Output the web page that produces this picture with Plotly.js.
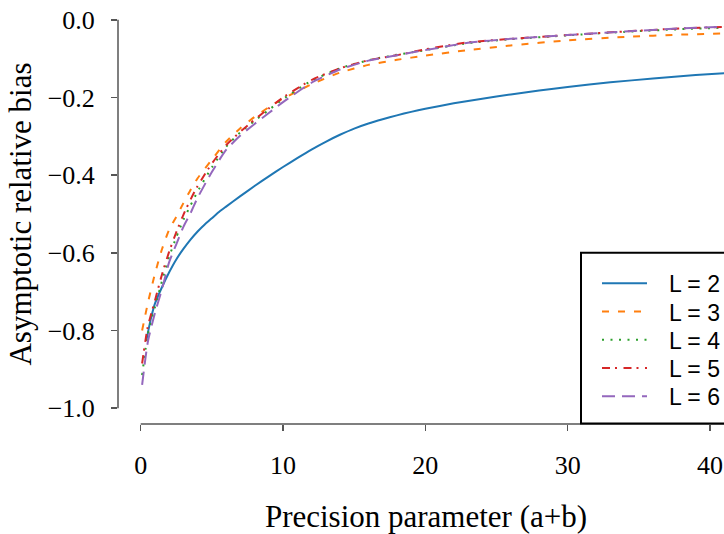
<!DOCTYPE html>
<html><head><meta charset="utf-8">
<script src="https://cdn.plot.ly/plotly-3.0.1.min.js"></script>
<style>html,body{margin:0;padding:0;overflow:hidden;background:#fff}#chart{width:760px;height:534px}</style>
</head><body><div id="chart"></div>
<script>
// Precision parameter (a+b) for L = 2
const xL2 = [0.4, 0.7, 1.0, 1.5, 2.0, 2.5, 3.0, 3.5, 4.0, 4.5, 5.0, 5.5, 6.0, 7.0, 8.0, 9.0, 10.0, 11.0, 12.0, 13.0, 14.0, 15.0, 16.0, 17.0, 18.0, 19.0, 20.0, 22.0, 24.0, 26.0, 28.0, 30.0, 33.0, 36.0, 39.0, 42.0];
const yL2 = [-0.825, -0.772, -0.731, -0.688, -0.650, -0.617, -0.590, -0.566, -0.545, -0.527, -0.511, -0.495, -0.481, -0.454, -0.428, -0.403, -0.379, -0.356, -0.334, -0.314, -0.296, -0.280, -0.267, -0.256, -0.246, -0.237, -0.229, -0.215, -0.203, -0.192, -0.182, -0.173, -0.161, -0.151, -0.142, -0.135];
// Precision parameter (a+b) for L = 3..6
const xL = [0.1, 0.5, 1, 1.5, 2, 2.5, 3, 3.5, 4, 5, 6, 7, 8, 9, 10, 12, 14, 16, 18, 20, 23, 26, 30, 34, 38, 42];
const yL3 = [-0.80, -0.73, -0.654, -0.59, -0.540, -0.507, -0.472, -0.438, -0.408, -0.360, -0.314, -0.279, -0.250, -0.225, -0.203, -0.166, -0.136, -0.116, -0.103, -0.092, -0.078, -0.066, -0.053, -0.044, -0.038, -0.034];
const yL4 = [-0.915, -0.81, -0.74, -0.672, -0.61, -0.56, -0.515, -0.478, -0.442, -0.38, -0.327, -0.29, -0.26, -0.232, -0.204, -0.157, -0.125, -0.104, -0.09, -0.078, -0.06, -0.05, -0.04, -0.031, -0.024, -0.019];
const yL5 = [-0.885, -0.79, -0.723, -0.655, -0.597, -0.547, -0.502, -0.463, -0.428, -0.370, -0.323, -0.288, -0.257, -0.228, -0.200, -0.155, -0.125, -0.104, -0.091, -0.076, -0.058, -0.049, -0.039, -0.030, -0.022, -0.017];
const yL6 = [-0.94, -0.83, -0.755, -0.693, -0.624, -0.578, -0.533, -0.498, -0.458, -0.392, -0.335, -0.298, -0.268, -0.240, -0.212, -0.162, -0.128, -0.105, -0.091, -0.078, -0.059, -0.049, -0.039, -0.030, -0.022, -0.016];

const seriesNames = ['L = 2', 'L = 3', 'L = 4', 'L = 5', 'L = 6'];
const seriesColors = ['#1f77b4', '#ff7f0e', '#2ca02c', '#d62728', '#9467bd'];
const seriesDash = ['solid', '7px,9px', '2px,6.5px', '8px,5px,2px,6.5px', '13px,7px'];
const xTicks = [0, 10, 20, 30, 40];
const yTicks = [-1.0, -0.8, -0.6, -0.4, -0.2, 0.0];
const yTickText = ['\u22121.0', '\u22120.8', '\u22120.6', '\u22120.4', '\u22120.2', '0.0'];

const xs = [xL2, xL, xL, xL, xL];
const ys = [yL2, yL3, yL4, yL5, yL6];
const traces = ys.map((y, i) => ({
  type: 'scatter', mode: 'lines', x: xs[i], y: y, name: seriesNames[i],
  line: {color: seriesColors[i], width: 2, dash: seriesDash[i], shape: 'spline', smoothing: 0.6}
}));

// plot area geometry (px) used to place the boxed legend in paper coordinates
const W = 760, H = 534, ML = 118, MR = 26, MT = 4, MB = 106;
const PW = W - ML - MR, PH = H - MT - MB;
const px = v => (v - ML) / PW;
const py = v => (H - MB - v) / PH;

const serif = 'Liberation Serif';
const sans = 'Liberation Sans';
const axisGray = '#555555';

const shapes = [
  {type: 'line', xref: 'paper', yref: 'y', x0: 0, x1: 0, y0: -1, y1: 0, line: {color: axisGray, width: 1.5}, layer: 'below'},
  {type: 'line', xref: 'x', yref: 'paper', x0: 0, x1: 41.69, y0: 0, y1: 0, line: {color: axisGray, width: 1.5}, layer: 'below'},
  {type: 'rect', xref: 'paper', yref: 'paper', x0: px(581), x1: px(745), y0: py(427.5), y1: py(255),
   fillcolor: '#ffffff', line: {color: '#000000', width: 2}, layer: 'above'}
];
const annotations = [];
const legendY = [286, 314.5, 343, 371.5, 400];
seriesNames.forEach((n, i) => {
  shapes.push({type: 'line', xref: 'paper', yref: 'paper', x0: px(602), x1: px(647), y0: py(legendY[i]), y1: py(legendY[i]),
    line: {color: seriesColors[i], width: 2, dash: seriesDash[i]}, layer: 'above'});
  annotations.push({xref: 'paper', yref: 'paper', x: px(667), y: py(legendY[i] + 1), xanchor: 'left', yanchor: 'middle',
    text: n, showarrow: false, font: {family: sans, size: 23, color: '#000'}});
});

const layout = {
  width: W, height: H,
  margin: {l: ML, r: MR, t: MT, b: MB},
  paper_bgcolor: '#fff', plot_bgcolor: '#fff',
  font: {family: serif, color: '#000'},
  showlegend: false,
  xaxis: {
    range: [-1.595, 41.69], tickvals: xTicks, ticktext: xTicks.map(String),
    showgrid: false, zeroline: false, showline: false,
    ticks: 'outside', ticklen: 6, tickwidth: 1.5, tickcolor: axisGray,
    tickfont: {family: serif, size: 26, color: '#000'}, ticklabelstandoff: 12,
    automargin: true,
    title: {text: 'Precision parameter (a+b)', font: {family: serif, size: 31, color: '#000'}, standoff: 28}
  },
  yaxis: {
    range: [-1.0408, 0.0408], tickvals: yTicks, ticktext: yTickText,
    showgrid: false, zeroline: false, showline: false,
    ticks: 'outside', ticklen: 6, tickwidth: 1.5, tickcolor: axisGray,
    tickfont: {family: serif, size: 26, color: '#000'}, ticklabelstandoff: 11,
    automargin: true,
    title: {text: 'Asymptotic relative bias', font: {family: serif, size: 31, color: '#000'}, standoff: 6}
  },
  shapes: shapes,
  annotations: annotations
};
Plotly.newPlot('chart', traces, layout, {displayModeBar: false, staticPlot: true});
</script></body></html>
